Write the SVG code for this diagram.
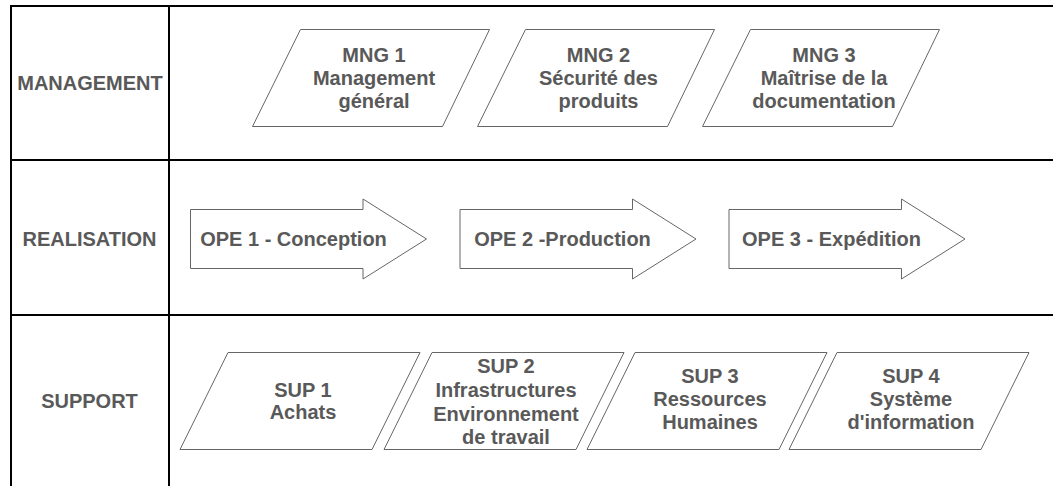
<svg xmlns="http://www.w3.org/2000/svg" width="1053" height="486" viewBox="0 0 1053 486">
  <defs>
    <style>
      .grid { stroke: #000; stroke-width: 2; fill: none; }
      .shape { fill: #fff; stroke: #666; stroke-width: 1; }
      .lbl { font-family: "Liberation Sans", Arial, sans-serif; font-size: 20px; font-weight: bold; fill: #595959; text-anchor: middle; }
    </style>
    <!-- process parallelograms (top-left corner at origin) -->
    <path id="para-mng" d="M0,0 H189 L142,97 H-48 Z"/>
    <path id="para-sup" d="M0,0 H192 L144,97 H-48 Z"/>
    <!-- block arrow for operational processes -->
    <path id="block-arrow" d="M0,10.5 H172.5 V0 L236,40 L172.5,80 V69.5 H0 Z"/>
  </defs>

  <rect x="0" y="0" width="1053" height="486" fill="#fff"/>

  <!-- swimlane table -->
  <g id="table">
    <line class="grid" x1="11" y1="6" x2="1053" y2="6"/>
    <line class="grid" x1="11" y1="160" x2="1053" y2="160"/>
    <line class="grid" x1="11" y1="315" x2="1053" y2="315"/>
    <line class="grid" x1="11" y1="5" x2="11" y2="486"/>
    <line class="grid" x1="169" y1="5" x2="169" y2="486"/>
  </g>

  <!-- lane headings -->
  <g id="lane-management"><text class="lbl" x="90" y="90">MANAGEMENT</text></g>
  <g id="lane-realisation"><text class="lbl" x="89.5" y="245.5">REALISATION</text></g>
  <g id="lane-support"><text class="lbl" x="89.5" y="408">SUPPORT</text></g>

  <!-- management processes -->
  <g id="mng1">
    <use href="#para-mng" class="shape" transform="translate(300.5,29.5)"/>
    <text class="lbl" x="374" y="62">MNG 1</text>
    <text class="lbl" x="374" y="85">Management</text>
    <text class="lbl" x="374" y="108">général</text>
  </g>
  <g id="mng2">
    <use href="#para-mng" class="shape" transform="translate(525.5,29.5)"/>
    <text class="lbl" x="598.5" y="62">MNG 2</text>
    <text class="lbl" x="598.5" y="85">Sécurité des</text>
    <text class="lbl" x="598.5" y="108">produits</text>
  </g>
  <g id="mng3">
    <use href="#para-mng" class="shape" transform="translate(750.5,29.5)"/>
    <text class="lbl" x="824" y="62">MNG 3</text>
    <text class="lbl" x="824" y="85">Maîtrise de la</text>
    <text class="lbl" x="824" y="108">documentation</text>
  </g>

  <!-- operational processes -->
  <g id="ope1">
    <use href="#block-arrow" class="shape" transform="translate(190.5,199)"/>
    <text class="lbl" x="293.5" y="246">OPE 1 - Conception</text>
  </g>
  <g id="ope2">
    <use href="#block-arrow" class="shape" transform="translate(460,199)"/>
    <text class="lbl" x="562.5" y="246">OPE 2 -Production</text>
  </g>
  <g id="ope3">
    <use href="#block-arrow" class="shape" transform="translate(729,199)"/>
    <text class="lbl" x="831.5" y="246">OPE 3 - Expédition</text>
  </g>

  <!-- support processes -->
  <g id="sup1">
    <use href="#para-sup" class="shape" transform="translate(228,352.5)"/>
    <text class="lbl" x="303" y="397">SUP 1</text>
    <text class="lbl" x="303" y="419">Achats</text>
  </g>
  <g id="sup2">
    <use href="#para-sup" class="shape" transform="translate(432,352.5)"/>
    <text class="lbl" x="506" y="373">SUP 2</text>
    <text class="lbl" x="506" y="397">Infrastructures</text>
    <text class="lbl" x="506" y="420.5">Environnement</text>
    <text class="lbl" x="506" y="444">de travail</text>
  </g>
  <g id="sup3">
    <use href="#para-sup" class="shape" transform="translate(635,352.5)"/>
    <text class="lbl" x="710" y="383">SUP 3</text>
    <text class="lbl" x="710" y="406">Ressources</text>
    <text class="lbl" x="710" y="429">Humaines</text>
  </g>
  <g id="sup4">
    <use href="#para-sup" class="shape" transform="translate(837,352.5)"/>
    <text class="lbl" x="911" y="383">SUP 4</text>
    <text class="lbl" x="911" y="406">Système</text>
    <text class="lbl" x="911" y="429">d'information</text>
  </g>

  <!-- no connectors between processes -->
  <g id="connectors"/>
</svg>
